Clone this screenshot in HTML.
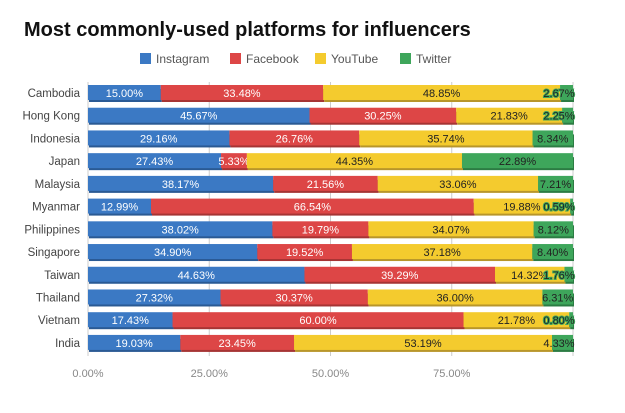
<!DOCTYPE html>
<html><head><meta charset="utf-8"><style>
body{margin:0;background:#fff;width:625px;height:408px;overflow:hidden;font-family:"Liberation Sans",sans-serif}
</style></head><body>
<svg id="c" width="625" height="408" xmlns="http://www.w3.org/2000/svg">
<text x="24" y="36" font-size="20" font-weight="bold" fill="#111">Most commonly-used platforms for influencers</text>
</svg>
<script>
const categories=["Cambodia","Hong Kong","Indonesia","Japan","Malaysia","Myanmar","Philippines","Singapore","Taiwan","Thailand","Vietnam","India"];
const seriesNames=["Instagram","Facebook","YouTube","Twitter"];
const instagram=[15.00,45.67,29.16,27.43,38.17,12.99,38.02,34.90,44.63,27.32,17.43,19.03];
const facebook=[33.48,30.25,26.76,5.33,21.56,66.54,19.79,19.52,39.29,30.37,60.00,23.45];
const youtube=[48.85,21.83,35.74,44.35,33.06,19.88,34.07,37.18,14.32,36.00,21.78,53.19];
const twitter=[2.67,2.25,8.34,22.89,7.21,0.59,8.12,8.40,1.76,6.31,0.80,4.33];
const ticks=[0,25,50,75];
const colors=["#3b79c4","#dd4646","#f4cb2e","#3ea65b"];
const shades=["#2a5a94","#a63434","#b8962a","#2c7c43"];
const txt=["#fff","#fff","#222","#222"];
const series=[instagram,facebook,youtube,twitter];
const svg=document.getElementById('c');const NS="http://www.w3.org/2000/svg";
const x0=88,x1=573;const X=v=>x0+(x1-x0)*v/100;
const Y=i=>93+i*22.72;
function el(t,a,p){const e=document.createElementNS(NS,t);for(const k in a)e.setAttribute(k,a[k]);(p||svg).appendChild(e);return e;}
const lx=[140,230,315,400];
seriesNames.forEach((n,i)=>{
 const r=el('rect',{x:lx[i],y:53,width:11,height:11,fill:colors[i]});
 
 
 const t=el('text',{x:lx[i]+16,y:63,'font-size':12,fill:'#555'});t.textContent=n;
 
 
});
ticks.concat([100]).forEach(v=>{
 const l=el('line',{x1:X(v),x2:X(v),y1:82,y2:356,stroke:'#ccc','stroke-width':1});
 
 
});
ticks.forEach(v=>{
 const t=el('text',{x:X(v),y:377,'font-size':11,fill:'#888','text-anchor':'middle'});t.textContent=v.toFixed(2)+'%';
 
 
});
categories.forEach((c,i)=>{
 const cy=Y(i);
 const t=el('text',{x:80,y:cy+4,'font-size':11.5,fill:'#444','text-anchor':'end'});t.textContent=c;
 
 
 let acc=0;
 series.forEach((s,j)=>{
  const v=s[i];const xa=X(acc),xb=X(acc+v);acc+=v;
  const sh=el('rect',{x:xa+1,y:cy-4,width:Math.max(0,xb-xa),height:13,fill:shades[j]});
  
  
  const r=el('rect',{x:xa,y:cy-8,width:Math.max(0,xb-xa),height:15,fill:colors[j]});
  
  
  let lxp=(xa+xb)/2;
  if(j==3) lxp=Math.min(lxp,X(100)-14);
  const lt=el('text',{x:lxp,y:cy+4,'font-size':11,fill:txt[j],'text-anchor':'middle'});
  if(j==3&&v<3){lt.setAttribute('stroke','#3ea65b');lt.setAttribute('stroke-width','2');lt.setAttribute('paint-order','stroke');}
  lt.textContent=v.toFixed(2)+'%';
  
  
 });
});
</script>
</body></html>
